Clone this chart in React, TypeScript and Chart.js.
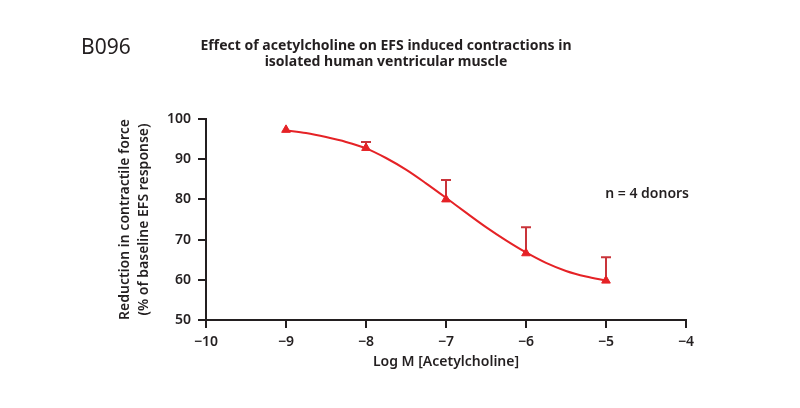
import React, { useEffect, useRef } from "react";
import { Chart, registerables } from "chart.js";

Chart.register(...registerables);

const doses = [-9, -8, -7, -6, -5];
const meanResponse = [97.3, 92.8, 80.0, 66.6, 59.8];
const errorUpper: (number | null)[] = [null, 94.3, 84.8, 73.1, 65.6];
const fitDoses = [-9, -8.75, -8.5, -8.25, -8, -7.75, -7.5, -7.25, -7, -6.75, -6.5, -6.25, -6, -5.75, -5.5, -5.25, -5];
const fitResponse = [97.2, 96.5, 95.5, 94.3, 92.7, 90.3, 87.4, 84.0, 80.4, 76.7, 73.1, 69.8, 66.8, 64.2, 62.2, 60.8, 59.8];

const panelLabel = "B096";
const titleLines = [
  "Effect of acetylcholine on EFS induced contractions in",
  "isolated human ventricular muscle",
];
const noteText = "n = 4 donors";
const xTitle = "Log M [Acetylcholine]";
const yTitle = ["Reduction in contractile force", "(% of baseline EFS response)"];

const FONT = "'Noto Sans', sans-serif";
const RED = "#e52226";
const ERR = "#c9343a";
const INK = "#231f20";

const fmt = (v: number) => (v < 0 ? "\u2212" + Math.abs(v) : String(v));

export default function App() {
  const ref = useRef<HTMLCanvasElement | null>(null);
  useEffect(() => {
    if (!ref.current) return;
    const errorPlugin = {
      id: "errorBars",
      beforeDatasetsDraw(chart: any) {
        const { ctx, scales } = chart;
        ctx.save();
        ctx.strokeStyle = ERR;
        ctx.lineWidth = 2;
        doses.forEach((d, i) => {
          const up = errorUpper[i];
          if (up == null) return;
          const x = scales.x.getPixelForValue(d);
          const y0 = scales.y.getPixelForValue(meanResponse[i]);
          const y1 = scales.y.getPixelForValue(up);
          ctx.beginPath();
          ctx.moveTo(x, y0);
          ctx.lineTo(x, y1);
          ctx.moveTo(x - 5, y1);
          ctx.lineTo(x + 5, y1);
          ctx.stroke();
        });
        ctx.restore();
      },
    };
    const textPlugin = {
      id: "texts",
      afterDraw(chart: any) {
        const { ctx } = chart;
        ctx.save();
        ctx.fillStyle = INK;
        ctx.textBaseline = "middle";
        ctx.textAlign = "left";
        ctx.font = `400 21px ${FONT}`;
        ctx.fillText(panelLabel, 81, 48);
        ctx.textAlign = "center";
        ctx.font = `700 14px ${FONT}`;
        ctx.fillText(titleLines[0], 386, 46);
        ctx.fillText(titleLines[1], 386, 62);
        ctx.textAlign = "right";
        ctx.font = `600 14px ${FONT}`;
        ctx.fillText(noteText, 689, 194);
        ctx.restore();
      },
    };
    const chart = new Chart(ref.current, {
      type: "scatter",
      data: {
        datasets: [
          {
            type: "line",
            data: fitDoses.map((x, i) => ({ x, y: fitResponse[i] })),
            borderColor: RED,
            borderWidth: 2,
            pointRadius: 0,
            cubicInterpolationMode: "monotone",
            fill: false,
          } as any,
          {
            data: doses.map((x, i) => ({ x, y: meanResponse[i] })),
            pointStyle: "triangle",
            pointRadius: 5,
            backgroundColor: RED,
            borderColor: RED,
            borderWidth: 1,
          },
        ],
      },
      options: {
        responsive: false,
        animation: false,
        layout: { padding: { top: 119, right: 114, left: 0, bottom: 0 } },
        plugins: { legend: { display: false }, tooltip: { enabled: false }, title: { display: false } },
        scales: {
          x: {
            type: "linear",
            min: -10,
            max: -4,
            afterFit: (a: any) => { a.height = 88; },
            border: { display: true, color: INK, width: 2 },
            grid: { display: true, drawOnChartArea: false, drawTicks: true, tickLength: 8, color: INK, lineWidth: 2 },
            ticks: { stepSize: 1, color: INK, font: { family: FONT, size: 14, weight: "600" }, padding: 6, callback: (v: any) => fmt(Number(v)), maxRotation: 0 },
            title: { display: true, text: xTitle, color: INK, font: { family: FONT, size: 14, weight: "600", lineHeight: 1.4 }, padding: { top: 0, bottom: 36 } },
          },
          y: {
            type: "linear",
            min: 50,
            max: 100,
            afterFit: (a: any) => { a.width = 206; },
            border: { display: true, color: INK, width: 2 },
            grid: { display: true, drawOnChartArea: false, drawTicks: true, tickLength: 8, color: INK, lineWidth: 2 },
            ticks: { stepSize: 10, color: INK, font: { family: FONT, size: 14, weight: "600" }, padding: 7 },
            title: { display: true, text: yTitle, color: INK, font: { family: FONT, size: 14, weight: "600", lineHeight: 1.4 }, padding: { top: 115, bottom: 0 } },
          },
        },
      },
      plugins: [errorPlugin, textPlugin],
    });
    return () => chart.destroy();
  }, []);
  return (
    <div style={{ position: "absolute", left: 0, top: 0, width: 800, height: 408, background: "#fff" }}>
      <canvas ref={ref} width={800} height={408} />
    </div>
  );
}
